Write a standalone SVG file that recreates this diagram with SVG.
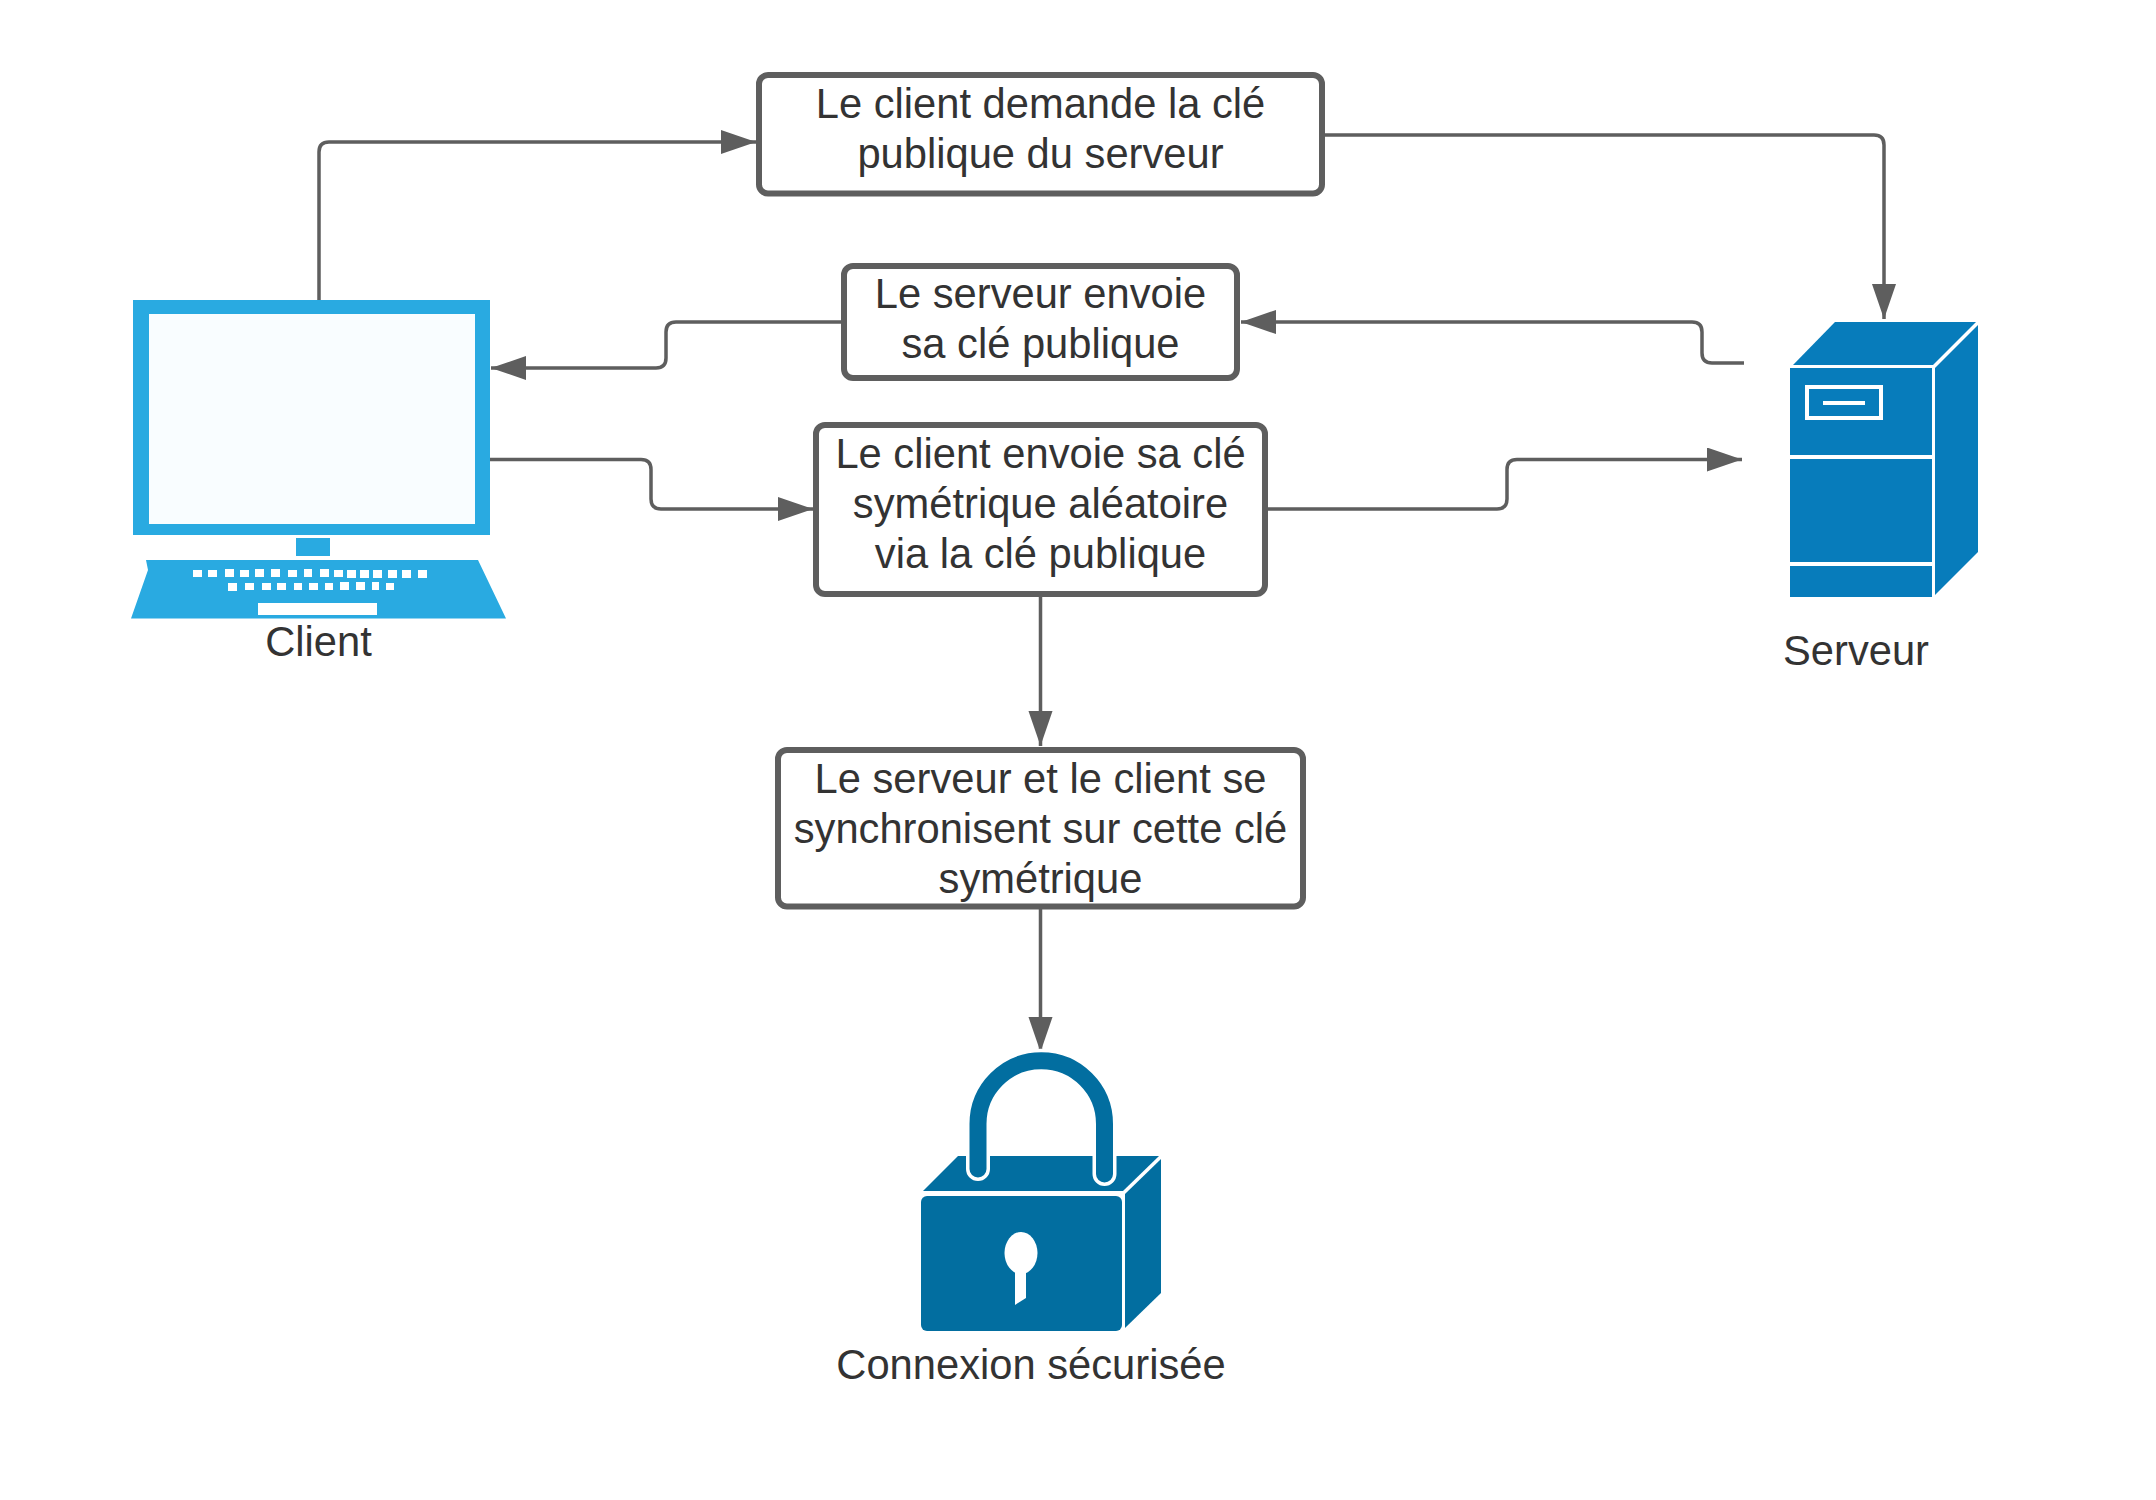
<svg xmlns="http://www.w3.org/2000/svg" width="2156" height="1500" viewBox="0 0 2156 1500">
<style>
text{font-family:"Liberation Sans",Arial,sans-serif;font-size:41.7px;fill:#333;text-anchor:middle}
.box{fill:#fff;stroke:#5e5e5e;stroke-width:6}
.c{fill:none;stroke:#5e5e5e;stroke-width:3.500;marker-end:url(#a)}
.w{fill:none;stroke:#fff}
.k{fill:#fff}
.s{fill:#077cbb}
.l{fill:#026ea0}
</style>
<defs>
<marker id="a" markerUnits="userSpaceOnUse" markerWidth="36" markerHeight="26" refX="35" refY="12" orient="auto"><path d="M0 0L35 12L0 24Z" fill="#5e5e5e"/></marker>
</defs>
<rect width="2156" height="1500" fill="#fff"/>
<g id="connectors">
<path class="c" d="M319 300V152Q319 142 329 142H756"/>
<path class="c" d="M1324 135H1874Q1884 135 1884 145V319"/>
<path class="c" d="M1744 363H1712Q1702 363 1702 353V332Q1702 322 1692 322H1241"/>
<path class="c" d="M843 322H676Q666 322 666 332V358Q666 368 656 368H491"/>
<path class="c" d="M490 459.500H641Q651 459.500 651 469.500V499Q651 509 661 509H813"/>
<path class="c" d="M1266 509H1497Q1507 509 1507 499V469.500Q1507 459.500 1517 459.500H1742"/>
<path class="c" d="M1040.500 595V746"/>
<path class="c" d="M1040.500 908V1052"/>
</g>
<g id="box1"><rect class="box" x="759" y="75" width="563" height="118.500" rx="9"/><text x="1040.500" y="118">Le client demande la clé</text><text x="1040.500" y="168">publique du serveur</text></g>
<g id="box2"><rect class="box" x="844" y="266" width="393" height="112" rx="9"/><text x="1040.500" y="308">Le serveur envoie</text><text x="1040.500" y="358">sa clé publique</text></g>
<g id="box3"><rect class="box" x="816" y="425" width="449" height="169" rx="9"/><text x="1040.500" y="468">Le client envoie sa clé</text><text x="1040.500" y="518">symétrique aléatoire</text><text x="1040.500" y="568">via la clé publique</text></g>
<g id="box4"><rect class="box" x="778" y="750" width="525" height="156.500" rx="9"/><text x="1040.500" y="793">Le serveur et le client se</text><text x="1040.500" y="843">synchronisent sur cette clé</text><text x="1040.500" y="893">symétrique</text></g>
<g id="client">
<path d="M133 300H490V535H133Z" fill="#29aae1"/>
<rect x="149" y="314" width="326" height="210" fill="#f9fdff"/>
<rect x="296" y="538" width="34" height="18" fill="#29aae1"/>
<path d="M146 560H478L506 618.500H131L148 570Z" fill="#29aae1"/>
<g class="k">
<rect x="193" y="570" width="9" height="7"/><rect x="208" y="570" width="9" height="7"/><rect x="225" y="569" width="9" height="8"/><rect x="240" y="570" width="9" height="7"/><rect x="255" y="569" width="9" height="8"/><rect x="271" y="569" width="9" height="8"/><rect x="288" y="570" width="9" height="7"/><rect x="304" y="569" width="8" height="8"/><rect x="320" y="569" width="9" height="8"/><rect x="334" y="570" width="9" height="7"/><rect x="347" y="570" width="9" height="8"/><rect x="360" y="570" width="9" height="8"/><rect x="373" y="570" width="9" height="8"/><rect x="388" y="570" width="9" height="8"/><rect x="402" y="570" width="9" height="8"/><rect x="418" y="570" width="9" height="8"/>
<rect x="228" y="583" width="9" height="8"/><rect x="245" y="583" width="9" height="7"/><rect x="262" y="583" width="9" height="7"/><rect x="277" y="583" width="9" height="7"/><rect x="294" y="583" width="8" height="7"/><rect x="309" y="583" width="9" height="7"/><rect x="325" y="583" width="8" height="7"/><rect x="340" y="582" width="9" height="8"/><rect x="356" y="582" width="9" height="8"/><rect x="372" y="582" width="7" height="8"/><rect x="386" y="583" width="8" height="7"/>
<rect x="258" y="603" width="119" height="12"/>
</g>
<text x="318.500" y="655.500">Client</text>
</g>
<g id="serveur">
<path class="s" d="M1790 368H1932V597H1790Z"/>
<path class="s" d="M1793 365L1835 322H1976L1933 365Z"/>
<path class="s" d="M1935 368L1978 325V552L1935 595Z"/>
<path class="w" stroke-width="4" d="M1790 457H1932M1790 564H1932"/>
<rect class="w" stroke-width="4" x="1807" y="387" width="74" height="31"/>
<path class="w" stroke-width="4" d="M1823 403H1865"/>
<text x="1856" y="665">Serveur</text>
</g>
<g id="cadenas">
<path class="l" d="M958 1156H1159L1123 1191H923Z"/>
<path class="l" d="M1125 1194L1161 1159V1293L1125 1328Z"/>
<rect class="l" x="921" y="1196" width="201" height="135" rx="6"/>
<path d="M978 1169V1124A63 63 0 0 1 1104.500 1124V1174" fill="none" stroke="#fff" stroke-width="24" stroke-linecap="round"/>
<path d="M978 1169V1124A63 63 0 0 1 1104.500 1124V1174" fill="none" stroke="#026ea0" stroke-width="17" stroke-linecap="round"/>
<ellipse class="k" cx="1021" cy="1253" rx="16.500" ry="21"/>
<path class="k" d="M1015 1270H1026V1298L1015 1305Z"/>
<text x="1031" y="1379">Connexion sécurisée</text>
</g>
</svg>
